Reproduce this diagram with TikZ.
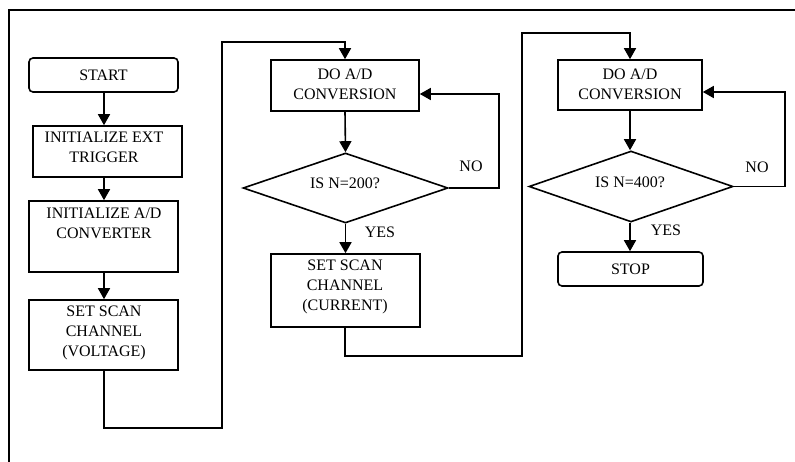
\documentclass[tikz,border=0pt]{standalone}
\usepackage{fontspec}
\setmainfont{Liberation Serif}
\usetikzlibrary{arrows.meta,shapes.geometric}
\begin{document}
\begin{tikzpicture}[x=1pt,y=-1pt,
  line width=1.6pt,
  every node/.style={font=\fontsize{16}{20}\selectfont, inner sep=0pt},
  box/.style={draw, rectangle, line width=1.6pt},
  rbox/.style={draw, rectangle, rounded corners=4pt, line width=1.6pt},
  dec/.style={draw, diamond, line width=1.6pt},
  txt/.style={align=center},
  arr/.style={-{Triangle[length=11pt,width=12pt]}},
  lbl/.style={font=\fontsize{16}{20}\selectfont}
]
\useasboundingbox (0,0) rectangle (795,462);
% frame
\draw (795,10) -- (9,10) -- (9,462);

% left column
\node[rbox, minimum width=149pt, minimum height=34pt] (start) at (103.5,75) {START};
\node[box, minimum width=149pt, minimum height=51pt] (init1) at (107.5,151.5) {};
\node[txt] (t1) at (104,147.5) {INITIALIZE EXT\\TRIGGER};
\node[box, minimum width=149pt, minimum height=71pt] (init2) at (103.5,236.5) {};
\node[txt] (t2) at (104,223) {INITIALIZE A/D\\CONVERTER};
\node[box, minimum width=149pt, minimum height=70pt] (volt) at (103.5,335) {};
\node[txt] (t3) at (104,333) {SET SCAN\\CHANNEL\\(VOLTAGE)};

% middle column
\node[box, minimum width=148pt, minimum height=51pt] (ad1) at (345,85.5) {};
\node[txt] (t4) at (345,84) {DO A/D\\CONVERSION};
\node[dec, minimum width=205pt, minimum height=70pt] (d1) at (345.5,188) {};
\node (t5) at (345,183) {IS N=200?};
\node[box, minimum width=149pt, minimum height=73pt] (cur) at (345.5,290.5) {};
\node[txt] (t6) at (345,287) {SET SCAN\\CHANNEL\\(CURRENT)};

% right column
\node[box, minimum width=144pt, minimum height=50pt] (ad2) at (630,85) {};
\node[txt] (t7) at (630,84) {DO A/D\\CONVERSION};
\node[dec, minimum width=204pt, minimum height=71pt] (d2) at (631,186.5) {};
\node (t8) at (630,182) {IS N=400?};
\node[rbox, minimum width=145pt, minimum height=34pt] (stop) at (630.5,269) {STOP};

% labels
\node[lbl] (no1) at (471,166) {NO};
\node[lbl] (yes1) at (380,232) {YES};
\node[lbl] (no2) at (757,167) {NO};
\node[lbl] (yes2) at (666,230) {YES};

% connectors
\draw[arr] (start.south -| 104,0) -- (init1.north -| 104,0);
\draw[arr] (init1.south -| 104,0) -- (init2.north -| 104,0);
\draw[arr] (init2.south -| 104,0) -- (volt.north -| 104,0);
\coordinate (c1) at (104,428);
\coordinate (c2) at (222,428);
\coordinate (c3) at (222,42);
\coordinate (c4) at (345,42);
\draw[arr] (volt.south -| c1) -- (c1) -- (c2) -- (c3) -- (c4) -- (ad1.north);
\draw[arr] (ad1.south) -- (d1.north);
\coordinate (n1) at (499,188);
\coordinate (n2) at (499,94);
\draw[arr] (d1.east) -- (n1) -- (n2) -- (ad1.east |- n2);
\draw[arr] (d1.south) -- (cur.north -| d1.south);
\coordinate (c5) at (345,356);
\coordinate (c6) at (522,356);
\coordinate (c7) at (522,33);
\coordinate (c8) at (630,33);
\draw[arr] (cur.south -| c5) -- (c5) -- (c6) -- (c7) -- (c8) -- (ad2.north);
\draw[arr] (ad2.south) -- (d2.north -| ad2.south);
\coordinate (n3) at (785,186.5);
\coordinate (n4) at (785,92);
\draw[arr] (d2.east) -- (n3) -- (n4) -- (ad2.east |- n4);
\draw[arr] (d2.south -| ad2.south) -- (stop.north -| ad2.south);
\end{tikzpicture}
\end{document}
